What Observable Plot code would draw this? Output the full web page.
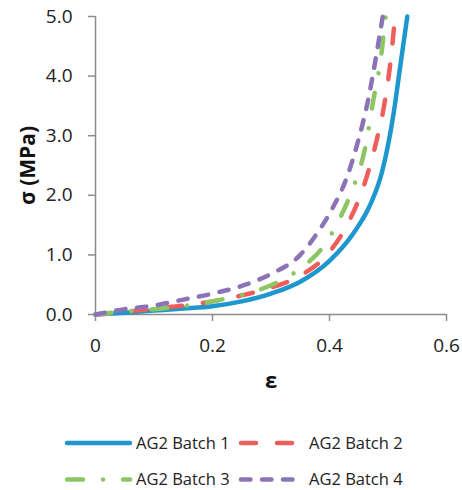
<!DOCTYPE html>
<html>
<head>
<meta charset="utf-8">
<script src="https://cdn.jsdelivr.net/npm/d3@7"></script>
<script src="https://cdn.jsdelivr.net/npm/@observablehq/plot@0.6"></script>
<style>
  html, body { margin: 0; padding: 0; background: #fff; }
  #chart { width: 462px; }
  svg { display: block; }
</style>
</head>
<body>
<div id="chart"></div>
<script>
// ---- data ----
const seriesNames = ["AG2 Batch 1", "AG2 Batch 2", "AG2 Batch 3", "AG2 Batch 4"];
const colors = ["#1E97CF", "#EF5E5A", "#8CC663", "#8C73B8"];
const dashes = [null, "15,21", "16,20,0.01,20", "9.5,11.5"];

const strain1 = [0, 0.05, 0.1, 0.15, 0.2, 0.25, 0.3, 0.35, 0.4, 0.44, 0.47, 0.49, 0.51, 0.52, 0.533];
const stress1 = [0, 0.03, 0.065, 0.1, 0.14, 0.22, 0.35, 0.55, 0.9, 1.35, 1.85, 2.4, 3.4, 4.1, 5.0];

const strain2 = [0, 0.05, 0.1, 0.15, 0.2, 0.25, 0.3, 0.35, 0.4, 0.43, 0.46, 0.48, 0.495, 0.505, 0.512];
const stress2 = [0, 0.045, 0.1, 0.15, 0.22, 0.32, 0.45, 0.65, 1.05, 1.5, 2.2, 2.9, 3.6, 4.3, 5.0];

const strain3 = [0, 0.05, 0.1, 0.15, 0.2, 0.25, 0.3, 0.35, 0.39, 0.42, 0.445, 0.46, 0.475, 0.487, 0.496];
const stress3 = [0, 0.05, 0.09, 0.14, 0.22, 0.33, 0.49, 0.77, 1.15, 1.66, 2.25, 2.75, 3.6, 4.25, 5.0];

const strain4 = [0, 0.05, 0.1, 0.15, 0.2, 0.25, 0.3, 0.35, 0.38, 0.405, 0.43, 0.45, 0.465, 0.48, 0.491];
const stress4 = [0, 0.09, 0.15, 0.25, 0.35, 0.48, 0.68, 1.0, 1.38, 1.78, 2.31, 2.95, 3.55, 4.35, 5.0];

const xTicks = [0, 0.2, 0.4, 0.6];
const xTickLabels = ["0", "0.2", "0.4", "0.6"];
const yTicks = [0, 1, 2, 3, 4, 5];
const yTickLabels = ["0.0", "1.0", "2.0", "3.0", "4.0", "5.0"];

const strains = [strain1, strain2, strain3, strain4];
const stresses = [stress1, stress2, stress3, stress4];

const FONT = "'Open Sans', 'DejaVu Sans', sans-serif";
const axisColor = "#8c8c8c";

const lineMarks = strains.map((xs, i) => {
  const rows = xs.map((x, j) => ({x, y: stresses[i][j]}));
  const opts = {
    x: "x", y: "y", stroke: colors[i], strokeWidth: 4.5,
    curve: "monotone-x", strokeLinecap: "round", strokeLinejoin: "round"
  };
  if (dashes[i]) opts.strokeDasharray = dashes[i];
  return Plot.line(rows, opts);
});

const plot = Plot.plot({
  width: 462,
  height: 400,
  marginLeft: 95,
  marginRight: 16,
  marginTop: 16,
  marginBottom: 86,
  style: {fontFamily: FONT, fontSize: "19px", color: "#222", background: "#fff"},
  x: {domain: [0, 0.6]},
  y: {domain: [0, 5]},
  marks: [
    Plot.axisX({ticks: xTicks, tickFormat: (d) => xTickLabels[xTicks.indexOf(d)], tickSize: 7, tickPadding: 17, stroke: axisColor, strokeWidth: 1.5, label: null, fontSize: 19}),
    Plot.axisY({ticks: yTicks, tickFormat: (d) => yTickLabels[yTicks.indexOf(d)], tickSize: 7, tickPadding: 16, stroke: axisColor, strokeWidth: 1.5, label: null, fontSize: 19}),
    Plot.ruleY([0], {stroke: axisColor, strokeWidth: 1.5}),
    Plot.ruleX([0], {stroke: axisColor, strokeWidth: 1.5}),
    ...lineMarks,
    Plot.text(["ε"], {frameAnchor: "bottom", dy: 73, fontWeight: "bold", fontSize: 22, fill: "#111"}),
    Plot.text(["σ (MPa)"], {frameAnchor: "left", dx: -67, rotate: -90, textAnchor: "middle", fontWeight: "bold", fontSize: 21, fill: "#111"})
  ]
});
document.getElementById("chart").appendChild(plot);

// ---- legend below the plot ----
const leg = d3.select("#chart").append("svg")
  .attr("width", 462).attr("height", 90)
  .style("font-family", FONT);
const legendPos = [
  {x: 67, y: 43}, {x: 241, y: 43},
  {x: 67, y: 79.5}, {x: 241, y: 79.5}
];
const lineLens = [63, 57, 63, 57];
seriesNames.forEach((name, i) => {
  const p = legendPos[i];
  const g = leg.append("g");
  const ln = g.append("line")
    .attr("x1", p.x).attr("x2", p.x + lineLens[i])
    .attr("y1", p.y).attr("y2", p.y)
    .attr("stroke", colors[i]).attr("stroke-width", 4.5)
    .attr("stroke-linecap", "round");
  if (dashes[i]) ln.attr("stroke-dasharray", dashes[i]);
  g.append("text")
    .attr("x", p.x + lineLens[i] + (i % 2 ? 11 : 6)).attr("y", p.y)
    .attr("dy", "0.35em")
    .attr("font-size", 16.5)
    .attr("fill", "#222")
    .text(name);
});
</script>
</body>
</html>
